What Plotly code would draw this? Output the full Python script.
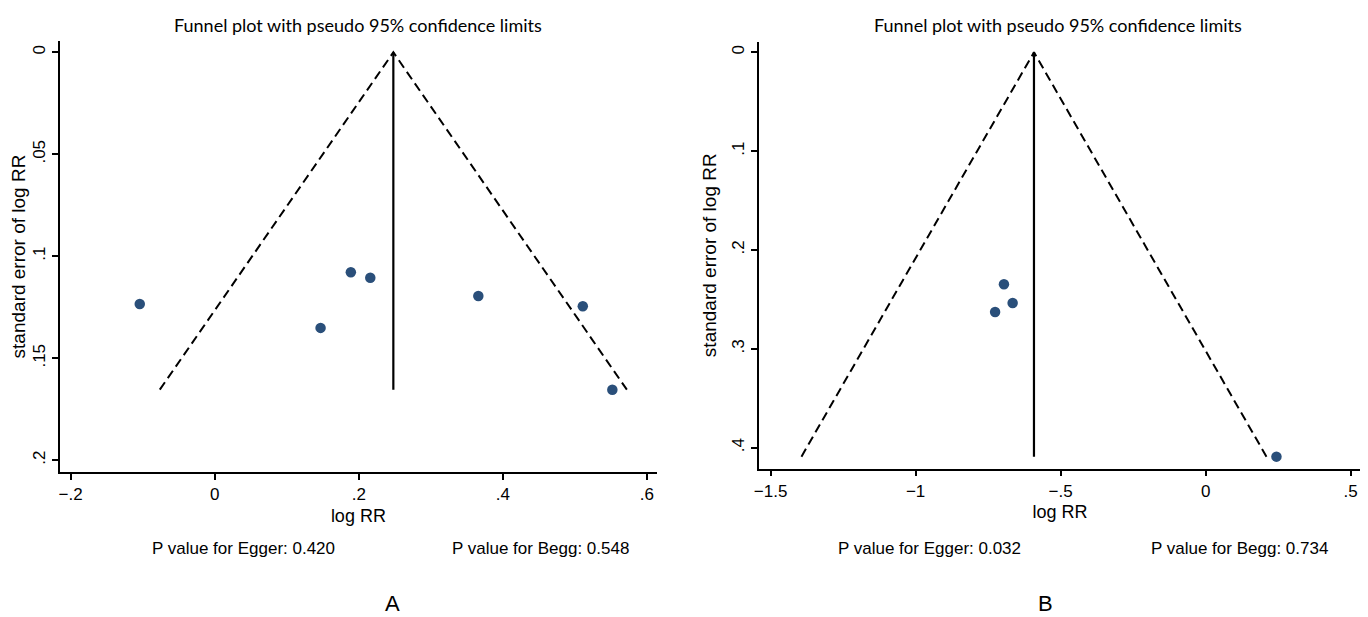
import plotly.graph_objects as go

# ---------------- data ----------------
# Panel A
a_logrr = [0.189, 0.216, 0.366, -0.104, 0.147, 0.511, 0.552]
a_se = [0.1078, 0.1105, 0.1195, 0.1234, 0.1351, 0.1245, 0.1654]
a_pooled = 0.248
a_xticks = [-0.2, 0, 0.2, 0.4, 0.6]
a_xlabels = ["\u2212.2", "0", ".2", ".4", ".6"]
a_yticks = [0, 0.05, 0.1, 0.15, 0.2]
a_ylabels = ["0", ".05", ".1", ".15", ".2"]
a_egger = "P value for Egger: 0.420"
a_begg = "P value for Begg: 0.548"

# Panel B
b_logrr = [-0.6955, -0.6655, -0.726, 0.244]
b_se = [0.2347, 0.2536, 0.2627, 0.409]
b_pooled = -0.592
b_xticks = [-1.5, -1, -0.5, 0, 0.5]
b_xlabels = ["\u22121.5", "\u22121", "\u2212.5", "0", ".5"]
b_yticks = [0, 0.1, 0.2, 0.3, 0.4]
b_ylabels = ["0", ".1", ".2", ".3", ".4"]
b_egger = "P value for Egger: 0.032"
b_begg = "P value for Begg: 0.734"

TITLE = "Funnel plot with pseudo 95% confidence limits"
Z = 1.96

# page body has an 8px margin: the figure is placed at (8, 8)
OFF = 8
W, H = 1368 - OFF, 617 - OFF
ARIAL = "Liberation Sans, Arial, sans-serif"
TFONT = "Lato, Liberation Sans, sans-serif"
NAVY = "#2a4f7a"


def px_x(p):
    return (p - OFF) / W


def px_y(p):
    return 1 - (p - OFF) / H


fig = go.Figure()


def add_panel(logrr, se, pooled, xa, ya):
    semax = max(se)
    # pseudo 95% CI limits
    fig.add_trace(go.Scatter(
        x=[pooled - Z * semax, pooled, pooled + Z * semax],
        y=[semax, 0, semax],
        mode="lines", line=dict(color="black", width=2, dash="9px,5px"),
        xaxis=xa, yaxis=ya, showlegend=False, hoverinfo="skip"))
    # pooled estimate line
    fig.add_trace(go.Scatter(
        x=[pooled, pooled], y=[0, semax],
        mode="lines", line=dict(color="black", width=2.2),
        xaxis=xa, yaxis=ya, showlegend=False, hoverinfo="skip"))
    fig.add_trace(go.Scatter(
        x=logrr, y=se, mode="markers",
        marker=dict(color=NAVY, size=10.5, line=dict(width=0)),
        xaxis=xa, yaxis=ya, showlegend=False))


add_panel(a_logrr, a_se, a_pooled, "x", "y")
add_panel(b_logrr, b_se, b_pooled, "x2", "y2")

axis_common = dict(showline=True, linecolor="black", linewidth=1.5,
                   ticks="outside", ticklen=6, tickwidth=1.5, tickcolor="black",
                   showgrid=False, zeroline=False, automargin=False,
                   tickfont=dict(family=ARIAL, size=17, color="black"))

fig.update_layout(
    width=W, height=H,
    margin=dict(l=0, r=0, t=0, b=0, autoexpand=False),
    paper_bgcolor="white", plot_bgcolor="white",
    xaxis=dict(domain=[px_x(59.8), px_x(657)], range=[-0.215, 0.614],
               tickvals=a_xticks, ticktext=a_xlabels, anchor="y",
               title=dict(text="log RR", font=dict(family=ARIAL, size=18, color="black"), standoff=6),
               **axis_common),
    yaxis=dict(domain=[px_y(472.3), px_y(40.7)], range=[0.2059, -0.0057],
               tickvals=a_yticks, ticktext=a_ylabels, tickangle=-90, anchor="x",
               title=dict(text="standard error of log RR", font=dict(family=ARIAL, size=19, color="black"), standoff=8),
               **axis_common),
    xaxis2=dict(domain=[px_x(759), px_x(1361)], range=[-1.540, 0.5355],
                tickvals=b_xticks, ticktext=b_xlabels, anchor="y2",
                title=dict(text="log RR", font=dict(family=ARIAL, size=18, color="black"), standoff=6),
                **axis_common),
    yaxis2=dict(domain=[px_y(468.7), px_y(41.7)], range=[0.4212, -0.0107],
                tickvals=b_yticks, ticktext=b_ylabels, tickangle=-90, anchor="x2",
                title=dict(text="standard error of log RR", font=dict(family=ARIAL, size=19, color="black"), standoff=8),
                **axis_common),
)

annots = [
    (358, 24.5, TITLE, TFONT, 18),
    (1058, 24.5, TITLE, TFONT, 18),
    (243.5, 548, a_egger, ARIAL, 17),
    (540.7, 548, a_begg, ARIAL, 17),
    (929.6, 548.5, b_egger, ARIAL, 17),
    (1239.6, 548.5, b_begg, ARIAL, 17),
    (392.7, 603.5, "A", ARIAL, 22),
    (1045, 603.5, "B", ARIAL, 22),
]
for x, y, t, fam, sz in annots:
    fig.add_annotation(x=px_x(x), y=px_y(y), xref="paper", yref="paper",
                       text=t, showarrow=False, xanchor="center", yanchor="middle",
                       borderpad=0,
                       font=dict(family=fam, size=sz, color="black"))

fig.write_html("out.html")
